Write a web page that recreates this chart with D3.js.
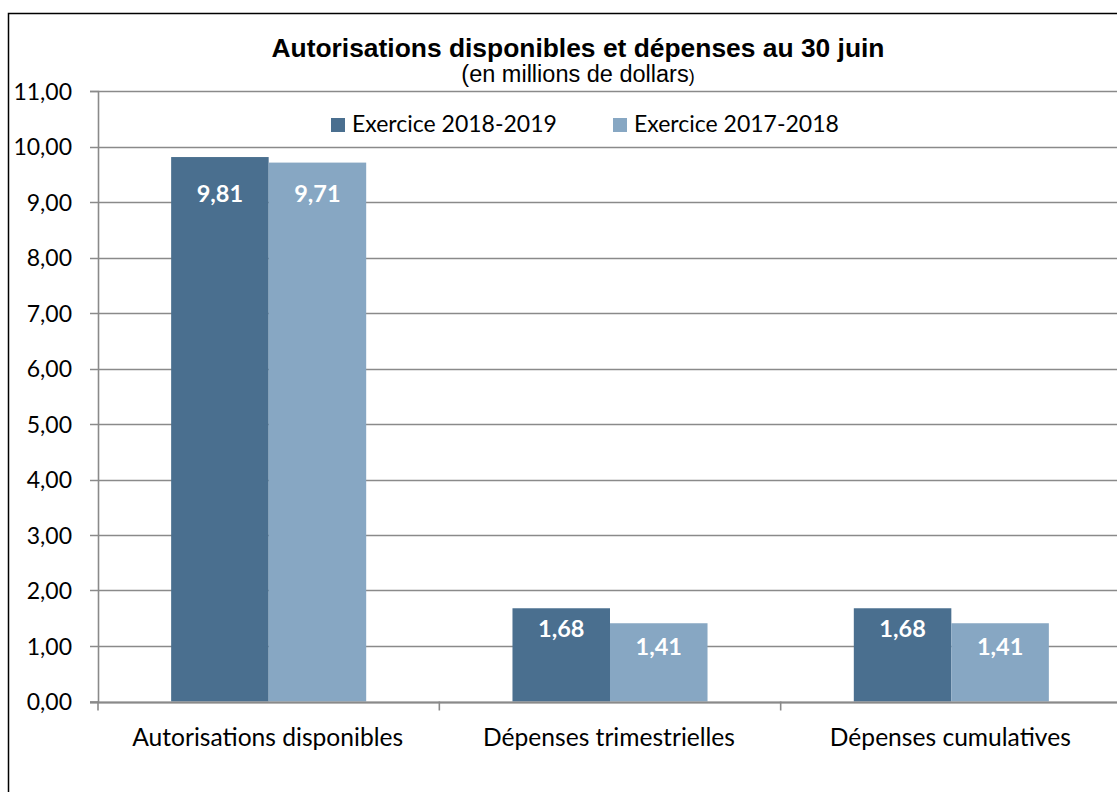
<!DOCTYPE html>
<html>
<head>
<meta charset="utf-8">
<script src="https://cdn.jsdelivr.net/npm/d3@7"></script>
<style>
  html, body { margin: 0; padding: 0; background: #fff; }
  svg { display: block; }
</style>
</head>
<body>
<svg id="chart" width="1117" height="792"></svg>
<script>
// ---- Data ----
const categories = ["Autorisations disponibles", "Dépenses trimestrielles", "Dépenses cumulatives"];
const seriesNames = ["Exercice 2018-2019", "Exercice 2017-2018"];
const values2018_2019 = [9.81, 1.68, 1.68];
const values2017_2018 = [9.71, 1.41, 1.41];
const yTicks = [0, 1, 2, 3, 4, 5, 6, 7, 8, 9, 10, 11];
const titleText = "Autorisations disponibles et dépenses au 30 juin";
const subtitleText = "(en millions de dollars";

// ---- Styles ----
const colors = ["#4A6F8F", "#87A7C3"];
const calibriLike = "Lato, 'Open Sans', sans-serif";
const gridColor = "#8a8a8a";

const locale = d3.formatLocale({ decimal: ",", thousands: " ", grouping: [3], currency: ["", " $"] });
const fmt = locale.format(".2f");

const svg = d3.select("#chart");

// outer chart border
svg.append("rect")
  .attr("x", 8.5).attr("y", 13.5)
  .attr("width", 1200).attr("height", 900)
  .attr("fill", "none").attr("stroke", "#000").attr("stroke-width", 1.5);

// ---- Scales ----
const plotLeft = 98, plotRight = 1122, plotTop = 91, plotBottom = 701.5;
const y = d3.scaleLinear().domain([0, 11]).range([plotBottom, plotTop]);
const x0 = d3.scaleBand().domain(categories).range([plotLeft, plotRight]).padding(0);
const x1 = d3.scaleBand().domain(seriesNames).range([0, x0.bandwidth()]).paddingInner(0).paddingOuter(0.75);

// ---- Gridlines ----
svg.append("g").selectAll("line").data(yTicks).join("line")
  .attr("x1", plotLeft - 8).attr("x2", 1117)
  .attr("y1", d => Math.round(y(d)) + 0.5).attr("y2", d => Math.round(y(d)) + 0.5)
  .attr("stroke", gridColor).attr("stroke-width", 1.6);

// ---- Y axis ----
const yAxis = svg.append("g").attr("transform", `translate(${plotLeft},0)`)
  .call(d3.axisLeft(y).tickValues(yTicks).tickSize(8).tickPadding(18).tickFormat(fmt));
yAxis.select(".domain").attr("stroke", gridColor).attr("stroke-width", 1.6);
yAxis.selectAll(".tick line").remove();
yAxis.selectAll(".tick text")
  .attr("font-family", calibriLike).attr("font-size", 23).attr("fill", "#000")
  .attr("x", -26).attr("dy", "0.36em");

// ---- Bars ----
const rows = categories.map((c, i) => ({ cat: c, vals: [values2018_2019[i], values2017_2018[i]] }));
const groups = svg.append("g").selectAll("g").data(rows).join("g")
  .attr("transform", d => `translate(${x0(d.cat)},0)`);

groups.selectAll("rect").data(d => d.vals.map((v, k) => ({ s: seriesNames[k], v, k }))).join("rect")
  .attr("x", d => x1(d.s)).attr("width", x1.bandwidth())
  .attr("y", d => y(d.v)).attr("height", d => y(0) - y(d.v))
  .attr("fill", d => colors[d.k]);

groups.selectAll("text").data(d => d.vals.map((v, k) => ({ s: seriesNames[k], v, k }))).join("text")
  .attr("x", d => x1(d.s) + x1.bandwidth() / 2)
  .attr("y", d => y(d.v) + (d.v > 5 ? (d.k === 0 ? 45 : 39) : (d.k === 0 ? 29 : 32)))
  .attr("text-anchor", "middle")
  .attr("font-family", calibriLike).attr("font-weight", "bold").attr("font-size", 23.5)
  .attr("fill", "#fff")
  .text(d => fmt(d.v));

// ---- X axis ----
svg.append("line")
  .attr("x1", plotLeft - 8).attr("x2", 1117)
  .attr("y1", Math.round(y(0)) + 0.5).attr("y2", Math.round(y(0)) + 0.5)
  .attr("stroke", gridColor).attr("stroke-width", 1.8);
const boundaries = categories.map(c => x0(c));
svg.append("g").selectAll("line").data(boundaries).join("line")
  .attr("x1", d => d).attr("x2", d => d)
  .attr("y1", y(0)).attr("y2", y(0) + 9)
  .attr("stroke", gridColor).attr("stroke-width", 1.6);
svg.append("g").selectAll("text").data(categories).join("text")
  .attr("x", d => x0(d) + x0.bandwidth() / 2 - 1)
  .attr("y", 745.5)
  .attr("text-anchor", "middle")
  .attr("font-family", calibriLike).attr("font-size", 24.6).attr("fill", "#000")
  .text(d => d);

// ---- Title ----
svg.append("text")
  .attr("x", 578).attr("y", 57)
  .attr("text-anchor", "middle")
  .attr("font-family", "'Liberation Sans', Arial, sans-serif").attr("font-weight", "bold")
  .attr("font-size", 26.4).attr("fill", "#000")
  .text(titleText);
const sub = svg.append("text")
  .attr("x", 578).attr("y", 82)
  .attr("text-anchor", "middle")
  .attr("font-family", "'Liberation Sans', Arial, sans-serif")
  .attr("font-size", 23.5).attr("fill", "#000");
sub.append("tspan").text(subtitleText);
sub.append("tspan").attr("font-size", 18).text(")");

// ---- Legend ----
const legendX = [331, 613];
const legend = svg.append("g").selectAll("g").data(seriesNames).join("g")
  .attr("transform", (d, i) => `translate(${legendX[i]},118)`);
legend.append("rect").attr("width", 14).attr("height", 14).attr("fill", (d, i) => colors[i]);
legend.append("text").attr("x", 21).attr("y", 14)
  .attr("font-family", calibriLike).attr("font-size", 23).attr("fill", "#000")
  .text(d => d);
</script>
</body>
</html>
